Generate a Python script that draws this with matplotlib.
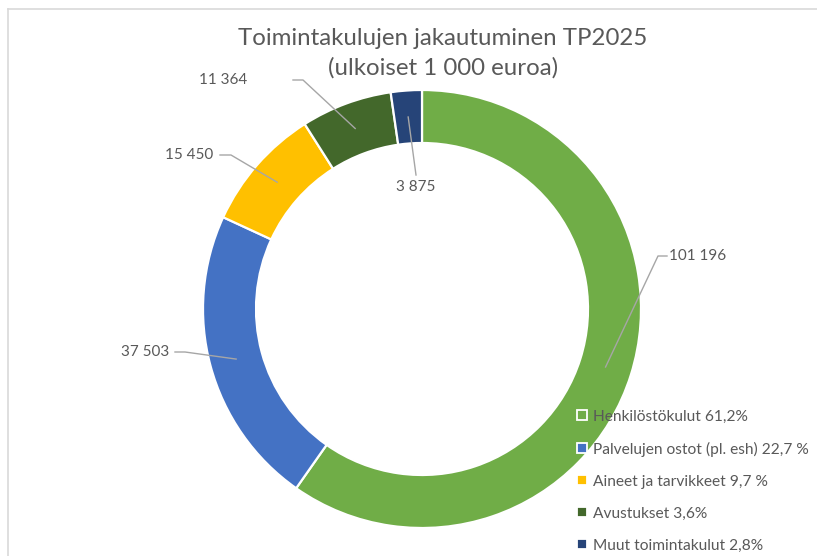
import matplotlib
matplotlib.use("Agg")
import matplotlib.pyplot as plt
from matplotlib.lines import Line2D
import numpy as np

plt.rcParams["font.family"] = ["Lato", "DejaVu Sans"]

# data
CATEGORIES = ["Henkilöstökulut 61,2%", "Palvelujen ostot (pl. esh) 22,7 %",
              "Aineet ja tarvikkeet 9,7 %", "Avustukset 3,6%", "Muut toimintakulut 2,8%"]
VALUES = [101196, 37503, 15450, 11364, 3875]
VALUE_LABELS = ["101 196", "37 503", "15 450", "11 364", "3 875"]
COLORS = ["#70AD47", "#4472C4", "#FFC000", "#43682B", "#264478"]
TITLE = "Toimintakulujen jakautuminen TP2025\n(ulkoiset 1 000 euroa)"

TEXT_C = "#595959"
LINE_C = "#A6A6A6"
W, H = 817, 556

# layout in image pixels (y down): label text position, align, leader start
LABEL_POS = [(669, 256, "left"), (169, 352, "right"), (213, 155, "right"),
             (247, 80, "right"), (416, 187, "center")]
LEADER_START = [(667, 256), (175, 352), (220, 155), (293, 80), (416, 175)]
ELBOW = [-9, 10, 11, 10, 0]

CX, CY, R, RING = 422, 309, 219, 53

fig = plt.figure(figsize=(W / 100, H / 100), dpi=100)
ax = fig.add_axes([0, 0, 1, 1])

wedges, _ = ax.pie(VALUES, colors=COLORS, startangle=90, counterclock=False,
                   radius=R, center=(CX, H - CY),
                   wedgeprops=dict(width=RING, edgecolor="white", linewidth=1.6))
ax.set_xlim(0, W); ax.set_ylim(0, H)
ax.set_aspect("equal"); ax.axis("off")

rmid = R - RING / 2
for w, lab, (tx, ty, ha), (sx, sy), el in zip(wedges, VALUE_LABELS, LABEL_POS, LEADER_START, ELBOW):
    th = np.deg2rad((w.theta1 + w.theta2) / 2)
    axp = CX + rmid * np.cos(th)
    ayp = (H - CY) + rmid * np.sin(th)
    xs = [sx, sx + el, axp] if el else [sx, axp]
    ys = [H - sy, H - sy, ayp] if el else [H - sy, ayp]
    ax.plot(xs, ys, color=LINE_C, lw=1.0, zorder=5)
    ax.text(tx, H - ty, lab, ha=ha, va="center", fontsize=11, color=TEXT_C)

ax.text(443, H - 53, TITLE, ha="center", va="center", fontsize=17.3,
        color=TEXT_C, linespacing=1.45)

handles = [Line2D([0], [0], marker="s", linestyle="none", markersize=7,
                  markerfacecolor=c, markeredgecolor="white", markeredgewidth=1.3)
           for c in COLORS]
leg = ax.legend(handles, CATEGORIES, loc="upper left", bbox_to_anchor=(570 / W, 1 - 402 / H),
                bbox_transform=fig.transFigure, frameon=False, fontsize=11.2,
                handlelength=0.6, handletextpad=0.35, labelspacing=1.15, borderpad=0)
for t in leg.get_texts():
    t.set_color(TEXT_C)

# chart-area border (top and left edges visible)
fig.add_artist(Line2D([8 / W, 8 / W], [0, 1 - 9 / H], color="#D9D9D9", lw=1.2))
fig.add_artist(Line2D([8 / W, 1], [1 - 9 / H, 1 - 9 / H], color="#D9D9D9", lw=1.2))

fig.savefig("out.png", dpi=100)
